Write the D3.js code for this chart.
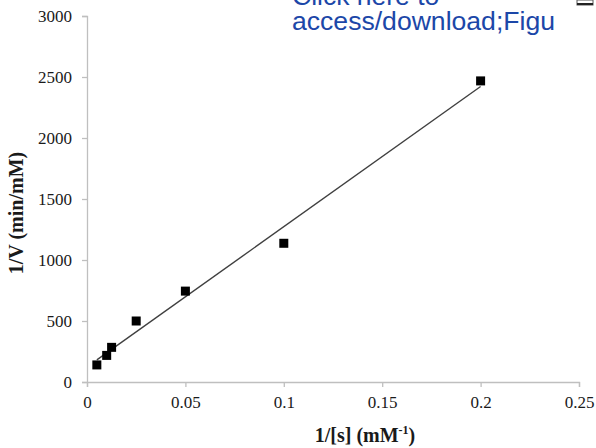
<!DOCTYPE html>
<html><head><meta charset="utf-8">
<script src="https://cdn.jsdelivr.net/npm/d3@7"></script>
<style>body{margin:0;background:#fff}svg{display:block}</style>
</head><body>
<svg id="c" width="596" height="448"></svg>
<script>
const xValues = [0.005, 0.01, 0.0125, 0.025, 0.05, 0.1, 0.2];
const yValues = [140, 218, 284, 500, 745, 1137, 2468];
const xTicks = [0, 0.05, 0.1, 0.15, 0.2, 0.25];
const yTicks = [0, 500, 1000, 1500, 2000, 2500, 3000];
const xTitle = "1/[s] (mM";
const yTitle = "1/V (min/mM)";
const noteLines = ["Click here to", "access/download;Figu"];

const svg = d3.select("#c");
const x = d3.scaleLinear().domain([0, 0.25]).range([87, 579]);
const y = d3.scaleLinear().domain([0, 3000]).range([382, 16]);
const axisColor = "#bfbfbf";
const serif = "'Liberation Serif','Times New Roman',serif";

const gx = svg.append("g").attr("transform", `translate(0,${y(0)})`)
  .call(d3.axisBottom(x).tickValues(xTicks).tickSize(5).tickPadding(9).tickFormat(d3.format("~g")));
const gy = svg.append("g").attr("transform", `translate(${x(0)},0)`)
  .call(d3.axisLeft(y).tickValues(yTicks).tickSize(5).tickPadding(10).tickFormat(d3.format("d")));
[gx, gy].forEach(g => {
  g.select(".domain").attr("stroke", axisColor).attr("stroke-width", 1.3);
  g.selectAll(".tick line").attr("stroke", axisColor).attr("stroke-width", 1.3);
  g.selectAll(".tick text").attr("font-family", serif).attr("font-size", 17).attr("fill", "#1a1a1a");
});

// regression trendline
const n = xValues.length;
const mx = d3.mean(xValues), my = d3.mean(yValues);
let sxy = 0, sxx = 0;
for (let i = 0; i < n; i++) { sxy += (xValues[i]-mx)*(yValues[i]-my); sxx += (xValues[i]-mx)**2; }
const slope = sxy/sxx, icpt = my - slope*mx;
const x0 = d3.min(xValues), x1 = d3.max(xValues);
svg.append("line")
  .attr("x1", x(x0)).attr("y1", y(icpt + slope*x0))
  .attr("x2", x(x1)).attr("y2", y(icpt + slope*x1))
  .attr("stroke", "#404040").attr("stroke-width", 1.4);

const s = 9;
svg.append("g").selectAll("rect").data(xValues.map((d,i)=>[d,yValues[i]])).join("rect")
  .attr("x", d => x(d[0]) - s/2).attr("y", d => y(d[1]) - s/2)
  .attr("width", s).attr("height", s).attr("fill", "#000");

// axis titles
const xt = svg.append("text").attr("x", 365).attr("y", 442).attr("text-anchor", "middle")
  .attr("font-family", serif).attr("font-size", 20).attr("font-weight", "bold").attr("fill", "#1a1a1a");
xt.append("tspan").text(xTitle);
xt.append("tspan").attr("font-size", 12).attr("dy", -8).text("-1");
xt.append("tspan").attr("dy", 8).text(")");

svg.append("text").attr("transform", "translate(23,213) rotate(-90)").attr("text-anchor", "middle")
  .attr("font-family", serif).attr("font-size", 20).attr("font-weight", "bold").attr("fill", "#1a1a1a")
  .text(yTitle);

// overlay note
const note = svg.append("g").attr("font-family", "'Liberation Sans',Arial,sans-serif").attr("font-size", 26.5).attr("fill", "#1c47a8");
note.append("text").attr("x", 292).attr("y", 5).text(noteLines[0]);
note.append("text").attr("x", 292).attr("y", 30).attr("textLength", 263).attr("lengthAdjust", "spacingAndGlyphs").text(noteLines[1]);

// small icon at top right
svg.append("rect").attr("x", 577).attr("y", 0).attr("width", 16).attr("height", 5).attr("fill", "#fff").attr("stroke", "#555").attr("stroke-width", 1);
svg.append("line").attr("x1", 577).attr("x2", 593).attr("y1", 4).attr("y2", 4).attr("stroke", "#222").attr("stroke-width", 2);
</script>
</body></html>
